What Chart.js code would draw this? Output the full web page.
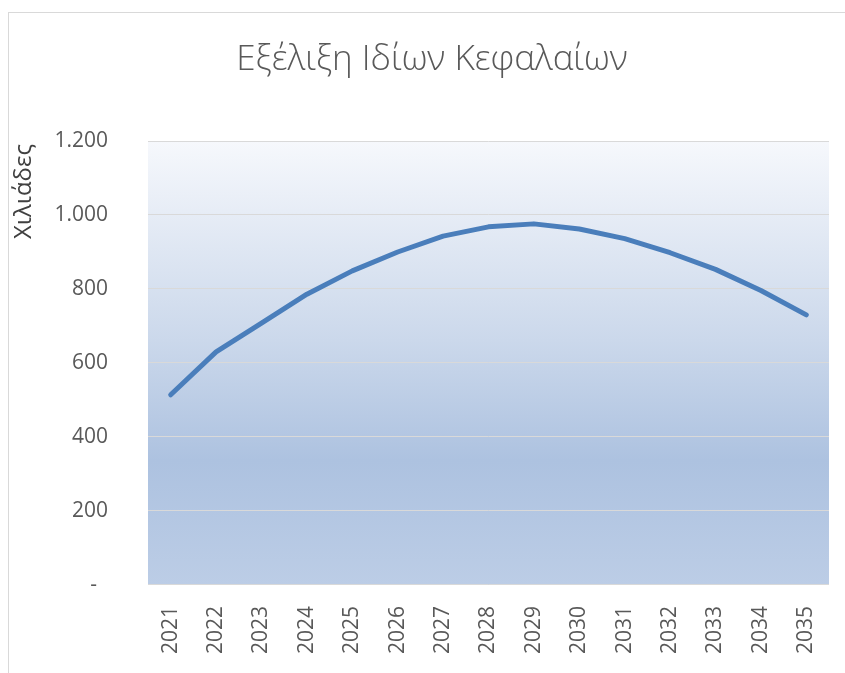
<!DOCTYPE html>
<html>
<head>
<meta charset="utf-8">
<script src="https://cdn.jsdelivr.net/npm/chart.js@4.4.1/dist/chart.umd.min.js"></script>
<style>
    html, body { margin: 0; padding: 0; background: #fff; }
    #wrap { position: relative; width: 845px; height: 673px; }
</style>
</head>
<body>
<div id="wrap"><canvas id="equityChart"></canvas></div>
<script>
// --- Data ---
const years = ['2021', '2022', '2023', '2024', '2025', '2026', '2027', '2028',
               '2029', '2030', '2031', '2032', '2033', '2034', '2035'];
const equity = [514, 630, 708, 786, 849, 900, 943, 968, 976, 962, 936, 898, 853, 796, 730];
const yTicks = [0, 200, 400, 600, 800, 1000, 1200];

const titleText = 'Εξέλιξη Ιδίων Κεφαλαίων';
const yTitleText = 'Χιλιάδες';

// Colours
const lineBlue = '#4a7ebb';
const textGrey = '#595959';
const gridGrey = '#d9d9d9';

Chart.defaults.font.family = '"Open Sans", sans-serif';
Chart.defaults.color = textGrey;

// Excel style frame + gradient plot area + rotated y title
const backdrop = {
    id: 'backdrop',
    beforeDraw(chart) {
        const { ctx, chartArea: a } = chart;
        ctx.save();
        ctx.strokeStyle = gridGrey;
        ctx.lineWidth = 1;
        ctx.strokeRect(8.5, 12.5, chart.width + 20, chart.height + 20);

        const g = ctx.createLinearGradient(0, a.top, 0, a.bottom);
        g.addColorStop(0, '#f6f8fc');
        g.addColorStop(0.45, '#cbd8eb');
        g.addColorStop(0.72, '#adc2e0');
        g.addColorStop(1, '#bccde6');
        ctx.fillStyle = g;
        ctx.fillRect(a.left, a.top, a.right - a.left, a.bottom - a.top);
        ctx.restore();
    },
    afterDraw(chart) {
        const { ctx, chartArea: a } = chart;
        ctx.save();
        ctx.translate(24, a.top + 3);
        ctx.rotate(-Math.PI / 2);
        ctx.font = '24px "Open Sans", sans-serif';
        ctx.fillStyle = '#404040';
        ctx.textAlign = 'right';
        ctx.textBaseline = 'middle';
        ctx.fillText(yTitleText, 0, 0);
        ctx.restore();
    }
};

new Chart(document.getElementById('equityChart'), {
    type: 'line',
    data: {
        labels: years,
        datasets: [{
            label: titleText,
            data: equity,
            borderColor: lineBlue,
            borderWidth: 5,
            borderCapStyle: 'round',
            borderJoinStyle: 'round',
            pointRadius: 0,
            tension: 0,
            fill: false
        }]
    },
    options: {
        responsive: true,
        maintainAspectRatio: false,
        animation: false,
        layout: { padding: { left: 34, right: 15, top: 0, bottom: 6 } },
        plugins: {
            legend: { display: false },
            tooltip: { enabled: false },
            title: {
                display: true,
                text: titleText,
                color: textGrey,
                font: { size: 35, weight: '300' },
                padding: { top: 39, bottom: 60 }
            }
        },
        scales: {
            x: {
                offset: true,
                grid: { display: false },
                border: { display: false },
                ticks: {
                    autoSkip: false,
                    minRotation: 90,
                    maxRotation: 90,
                    padding: 13,
                    font: { size: 21 }
                }
            },
            y: {
                min: 0,
                max: 1200,
                afterBuildTicks: axis => { axis.ticks = yTicks.map(v => ({ value: v })); },
                afterFit: axis => { axis.width = 114; },
                grid: { color: gridGrey, drawTicks: false, lineWidth: 1 },
                border: { display: false },
                ticks: {
                    padding: 40,
                    font: { size: 21 },
                    callback: v => v === 0 ? '-  ' : v.toLocaleString('de-DE')
                }
            }
        }
    },
    plugins: [backdrop]
});
</script>
</body>
</html>
